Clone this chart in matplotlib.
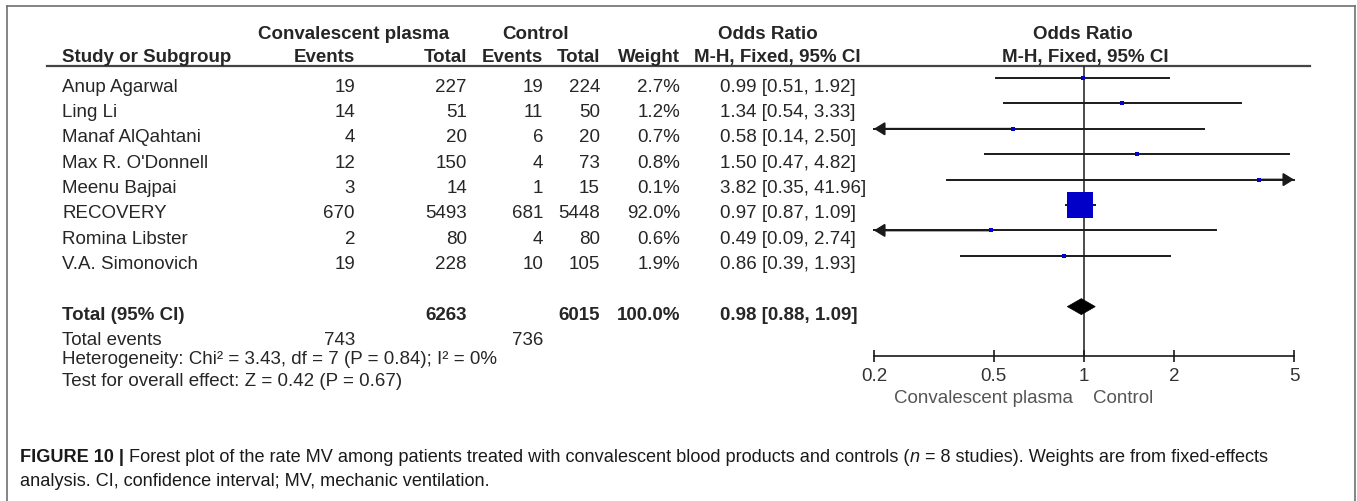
import matplotlib
matplotlib.use('Agg')
import matplotlib.pyplot as plt
from matplotlib import font_manager
from matplotlib.patches import Polygon
from matplotlib.ticker import NullLocator
import numpy as np

# study level data
studies = ['Anup Agarwal', 'Ling Li', 'Manaf AlQahtani', "Max R. O'Donnell",
           'Meenu Bajpai', 'RECOVERY', 'Romina Libster', 'V.A. Simonovich']
cp_events = [19, 14, 4, 12, 3, 670, 2, 19]
cp_total = [227, 51, 20, 150, 14, 5493, 80, 228]
ct_events = [19, 11, 6, 4, 1, 681, 4, 10]
ct_total = [224, 50, 20, 73, 15, 5448, 80, 105]
weights = [2.7, 1.2, 0.7, 0.8, 0.1, 92.0, 0.6, 1.9]
odds = [0.99, 1.34, 0.58, 1.50, 3.82, 0.97, 0.49, 0.86]
ci_low = [0.51, 0.54, 0.14, 0.47, 0.35, 0.87, 0.09, 0.39]
ci_high = [1.92, 3.33, 2.50, 4.82, 41.96, 1.09, 2.74, 1.93]

# pooled result
total_cp = 6263
total_ct = 6015
events_cp = 743
events_ct = 736
pooled_or = 0.98
pooled_low = 0.88
pooled_high = 1.09
heterogeneity = 'Heterogeneity: Chi\u00b2 = 3.43, df = 7 (P = 0.84); I\u00b2 = 0%'
overall_effect = 'Test for overall effect: Z = 0.42 (P = 0.67)'

xticks = [0.2, 0.5, 1, 2, 5]
xtick_labels = ['0.2', '0.5', '1', '2', '5']

caption_line1 = [('FIGURE 10 |', 'bold', 'normal'),
                 ('Forest plot of the rate MV among patients treated with convalescent blood products and controls (', 'normal', 'normal'),
                 ('n', 'normal', 'italic'),
                 ('= 8 studies). Weights are from fixed-effects', 'normal', 'normal')]
caption_line2 = [('analysis. CI, confidence interval; MV, mechanic ventilation.', 'normal', 'normal')]

# layout (pixels)
W, H = 1357, 502
FONT = 'Liberation Sans'
names = {f.name for f in font_manager.fontManager.ttflist}
CAP_FONT = 'Liberation Sans Narrow' if 'Liberation Sans Narrow' in names else FONT
FS = 13.5
TXT = '#262626'
BLUE = '#0000C8'
LINE = '#1a1a1a'

fig = plt.figure(figsize=(W / 100, H / 100), dpi=100)
bg = fig.add_axes([0, 0, 1, 1])
bg.set_xlim(0, W)
bg.set_ylim(H, 0)
bg.axis('off')

# outer frame
bg.plot([7, 7], [7, H], color='#707070', lw=1.2)
bg.plot([7, 1355], [7, 7], color='#707070', lw=1.2)
bg.plot([1355, 1355], [7, H], color='#707070', lw=1.2)


def txt(x, y, s, ha='left', bold=False, **kw):
    bg.text(x, y, s, ha=ha, va='baseline', fontsize=FS, family=FONT,
            fontweight='bold' if bold else 'normal', color=kw.pop('color', TXT), **kw)


# header
txt(354, 39, 'Convalescent plasma', ha='center', bold=True)
txt(536, 39, 'Control', ha='center', bold=True)
txt(768, 39, 'Odds Ratio', ha='center', bold=True)
txt(1083, 39, 'Odds Ratio', ha='center', bold=True)
txt(62, 62, 'Study or Subgroup', bold=True)
txt(355, 62, 'Events', ha='right', bold=True)
txt(467, 62, 'Total', ha='right', bold=True)
txt(543, 62, 'Events', ha='right', bold=True)
txt(600, 62, 'Total', ha='right', bold=True)
txt(680, 62, 'Weight', ha='right', bold=True)
txt(777, 62, 'M-H, Fixed, 95% CI', ha='center', bold=True)
txt(1085, 62, 'M-H, Fixed, 95% CI', ha='center', bold=True)
bg.plot([47, 1310], [67, 67], color='#444444', lw=1.6)

row_y = 79 + 25.4 * np.arange(len(studies))
total_y = 79 + 25.4 * 9
base = 12.5

for i, name in enumerate(studies):
    y = row_y[i] + base
    txt(62, y, name)
    txt(355, y, str(cp_events[i]), ha='right')
    txt(467, y, str(cp_total[i]), ha='right')
    txt(543, y, str(ct_events[i]), ha='right')
    txt(600, y, str(ct_total[i]), ha='right')
    txt(680, y, f'{weights[i]:.1f}%', ha='right')
    txt(720, y, f'{odds[i]:.2f} [{ci_low[i]:.2f}, {ci_high[i]:.2f}]')

y = total_y + base
txt(62, y, 'Total (95% CI)', bold=True)
txt(467, y, str(total_cp), ha='right', bold=True)
txt(600, y, str(total_ct), ha='right', bold=True)
txt(680, y, '100.0%', ha='right', bold=True)
txt(720, y, f'{pooled_or:.2f} [{pooled_low:.2f}, {pooled_high:.2f}]', bold=True)
y = total_y + 25.4 + base
txt(62, y, 'Total events')
txt(355, y, str(events_cp), ha='right')
txt(543, y, str(events_ct), ha='right')
txt(62, 364, heterogeneity)
txt(62, 386, overall_effect)

# forest panel
x0, x1, ytop, ybot = 874, 1294, 67, 357
fp = fig.add_axes([x0 / W, (H - ybot) / H, (x1 - x0) / W, (ybot - ytop) / H])
fp.set_xscale('log')
fp.set_xlim(0.2, 5)
fp.set_ylim(ybot, ytop)
fp.patch.set_visible(False)
for s in ['left', 'right', 'top']:
    fp.spines[s].set_visible(False)
fp.spines['bottom'].set_color(LINE)
fp.spines['bottom'].set_linewidth(1.2)
fp.set_yticks([])
fp.set_xticks(xticks)
fp.set_xticklabels(xtick_labels, family=FONT, fontsize=FS, color='#333333')
fp.xaxis.set_minor_locator(NullLocator())
fp.tick_params(axis='x', direction='inout', length=8, width=1.2, pad=4, color=LINE)

fp.plot([1, 1], [ytop, ybot], color=LINE, lw=1.1, zorder=1)

lo_lim, hi_lim = 0.2, 5
for i in range(len(studies)):
    y = row_y[i]
    lo = max(ci_low[i], lo_lim)
    hi = min(ci_high[i], hi_lim)
    fp.plot([lo, hi], [y, y], color=LINE, lw=1.4, clip_on=False, zorder=2)
    if ci_low[i] < lo_lim:
        fp.annotate('', xy=(lo_lim, y), xytext=(odds[i], y),
                    arrowprops=dict(arrowstyle='-|>,head_length=0.45,head_width=0.28',
                                    color=LINE, lw=1.4, shrinkA=0, shrinkB=0,
                                    mutation_scale=14), annotation_clip=False)
    if ci_high[i] > hi_lim:
        fp.annotate('', xy=(hi_lim, y), xytext=(odds[i], y),
                    arrowprops=dict(arrowstyle='-|>,head_length=0.45,head_width=0.28',
                                    color=LINE, lw=1.4, shrinkA=0, shrinkB=0,
                                    mutation_scale=14), annotation_clip=False)
    side_px = max(27 * np.sqrt(weights[i] / 92.0), 4)
    fp.plot([odds[i]], [y], marker='s', ms=side_px * 0.72, color=BLUE,
            mew=0, zorder=3, clip_on=False)

diamond = Polygon([(pooled_low, total_y), (pooled_or, total_y - 8),
                   (pooled_high, total_y), (pooled_or, total_y + 8)],
                  closed=True, facecolor='black', edgecolor='black', lw=0.5, zorder=3)
fp.add_patch(diamond)

bg.text(1073, 399, 'Convalescent plasma', ha='right', va='center', fontsize=FS,
        family=FONT, color='#555555')
bg.text(1093, 399, 'Control', ha='left', va='center', fontsize=FS,
        family=FONT, color='#555555')

# caption, fitted to the width of the printed first line
renderer = fig.canvas.get_renderer()


def run_text(x, y, runs, size, keep=True):
    sp = bg.text(0, 0, 'x x', fontsize=size, family=CAP_FONT)
    nsp = bg.text(0, 0, 'xx', fontsize=size, family=CAP_FONT)
    gap = sp.get_window_extent(renderer).width - nsp.get_window_extent(renderer).width
    sp.remove()
    nsp.remove()
    start = x
    for k, (s, wgt, sty) in enumerate(runs):
        if k > 0 and not s.startswith(('(', ')')) and not runs[k - 1][0].endswith('('):
            x += gap
        t = bg.text(x, y, s, fontsize=size, family=CAP_FONT, fontweight=wgt,
                    fontstyle=sty, va='baseline', ha='left', color='#1a1a1a')
        x += t.get_window_extent(renderer).width
        if not keep:
            t.remove()
    return x - start


w12 = run_text(20, 462, caption_line1, 12, keep=False)
cap_fs = 12 * 1256 / w12
run_text(20, 462, caption_line1, cap_fs)
run_text(20, 486, caption_line2, cap_fs)

fig.savefig('out.png', dpi=100)
